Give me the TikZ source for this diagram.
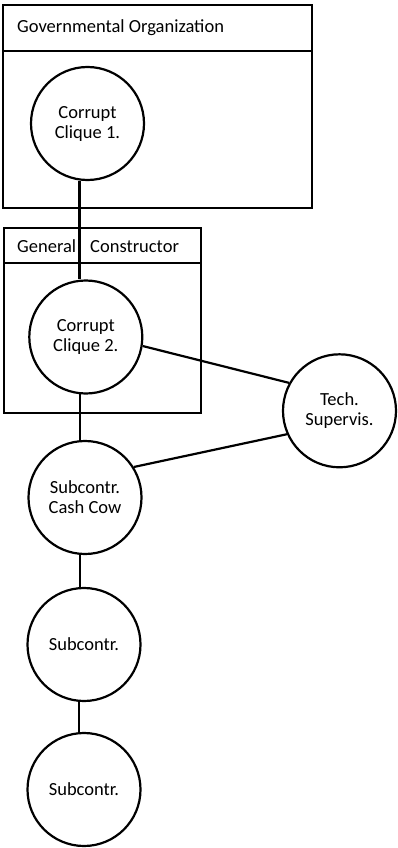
\documentclass[tikz,border=0pt]{standalone}
\usepackage{fontspec}
\setmainfont{Carlito}
\begin{document}
\begin{tikzpicture}[x=1pt,y=-1pt,
  ent/.style={circle,draw,line width=2.2pt,minimum size=113pt,inner sep=0pt,align=center,font=\fontsize{18.5}{20}\selectfont},
  frame/.style={draw,line width=2.2pt},
  conn/.style={line width=2.2pt},
  hdr/.style={anchor=west,inner sep=0pt,font=\fontsize{18.5}{20}\selectfont}]
\useasboundingbox (0,0) rectangle (397,848);
% Governmental Organization box
\draw[frame] (3,5) rectangle (312,208);
\draw[frame] (3,51) -- (312,51);
\node[hdr] (gov) at (17,28) {Governmental Organization};
% General Constructor box
\draw[frame] (4,228) rectangle (201,413);
\draw[frame] (4,263) -- (201,263);
\node[hdr] (gen) at (17,246) {General\hspace{14pt}Constructor};
% nodes
\node[ent] (c1) at (87.5,123.5) {Corrupt\\Clique 1.};
\node[ent] (c2) at (85.8,337) {Corrupt\\Clique 2.};
\node[ent] (ts) at (339.5,410.8) {Tech.\\Supervis.};
\node[ent] (c3) at (85,497.5) {Subcontr.\\Cash Cow};
\node[ent] (c4) at (84,644.5) {Subcontr.};
\node[ent] (c5) at (84,789.5) {Subcontr.};
% connectors
\draw[conn] (c1.262.5) -- (c1.262.5 |- c2.north);
\draw[conn] (c2.264) -- (c2.264 |- c3.north);
\draw[conn] (c3.265) -- (c3.265 |- c4.north);
\draw[conn] (c4.265) -- (c4.265 |- c5.north);
\draw[conn] (c2.-9) -- (ts.151);
\draw[conn] (ts.204) -- (c3.32);
\end{tikzpicture}
\end{document}
